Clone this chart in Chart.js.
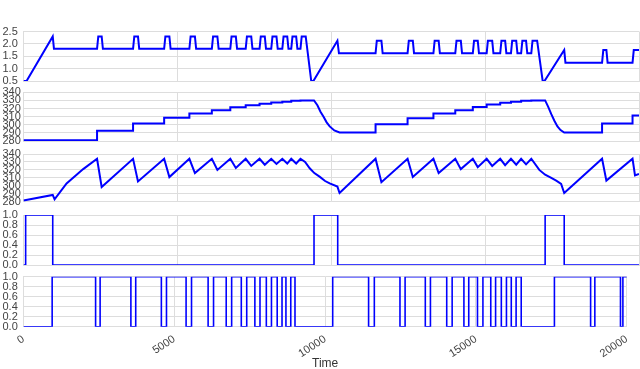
<!DOCTYPE html>
<html>
<head>
<meta charset="utf-8">
<script src="https://cdn.jsdelivr.net/npm/chart.js@4.4.1/dist/chart.umd.min.js"></script>
<style>
    html, body { margin: 0; padding: 0; background: #fff; }
    #wrap { position: relative; width: 640px; height: 369px; overflow: hidden; }
    #wrap canvas { position: absolute; left: 0; }
</style>
</head>
<body>
<div id="wrap">
    <canvas id="c1"></canvas>
    <canvas id="c2"></canvas>
    <canvas id="c3"></canvas>
    <canvas id="c4"></canvas>
    <canvas id="c5"></canvas>
</div>
<script>
// Panel 1: ramp / pulse signal
const p1Time = [0, 100, 950, 990,
    2390, 2430, 2540, 2580,  3560, 3600, 3720, 3760,  4570, 4610, 4740, 4780,
    5390, 5430, 5570, 5610,  6120, 6160, 6300, 6340,  6720, 6760, 6900, 6940,
    7220, 7260, 7400, 7440,  7670, 7710, 7840, 7880,  8050, 8090, 8220, 8260,
    8410, 8450, 8570, 8610,  8700, 8740, 8860, 8900,
    9000, 9040, 9170, 9350, 9420, 10200, 10250,
    11440, 11480, 11630, 11670,  12480, 12520, 12650, 12690,  13320, 13360, 13490, 13530,
    14030, 14070, 14210, 14250,  14600, 14640, 14760, 14800,  15050, 15090, 15230, 15270,
    15490, 15530, 15650, 15690,  15840, 15880, 16010, 16050,  16170, 16210, 16330, 16370,
    16500, 16540, 16690, 16870, 16930, 17570, 17610,
    18800, 18840, 18940, 18980,  19790, 19830, 20000];
const p1Value = [0.5, 0.5, 2.3, 1.8,
    1.8, 2.3, 2.3, 1.8,  1.8, 2.3, 2.3, 1.8,  1.8, 2.3, 2.3, 1.8,
    1.8, 2.3, 2.3, 1.8,  1.8, 2.3, 2.3, 1.8,  1.8, 2.3, 2.3, 1.8,
    1.8, 2.3, 2.3, 1.8,  1.8, 2.3, 2.3, 1.8,  1.8, 2.3, 2.3, 1.8,
    1.8, 2.3, 2.3, 1.8,  1.8, 2.3, 2.3, 1.8,
    1.8, 2.3, 2.3, 0.5, 0.5, 2.13, 1.62,
    1.62, 2.13, 2.13, 1.62,  1.62, 2.13, 2.13, 1.62,  1.62, 2.13, 2.13, 1.62,
    1.62, 2.13, 2.13, 1.62,  1.62, 2.13, 2.13, 1.62,  1.62, 2.13, 2.13, 1.62,
    1.62, 2.13, 2.13, 1.62,  1.62, 2.13, 2.13, 1.62,  1.62, 2.13, 2.13, 1.62,
    1.62, 2.13, 2.13, 0.5, 0.5, 1.75, 1.24,
    1.24, 1.75, 1.75, 1.24,  1.24, 1.75, 1.75];

// Panel 2: stepped level with decays
const p2Time = [0, 2390,  2390, 3560,  3560, 4570,  4570, 5390,  5390, 6120,  6120, 6720,
    6720, 7220,  7220, 7670,  7670, 8050,  8050, 8410,  8410, 8700,  8700, 9000,  9000, 9440,
    9550, 9650, 9750, 9850, 9950, 10100, 10270,
    11440,  11440, 12480,  12480, 13320,  13320, 14030,  14030, 14600,  14600, 15050,
    15050, 15490,  15490, 15840,  15840, 16170,  16170, 16500,  16500, 16950,
    17050, 17150, 17250, 17350, 17450, 17570,
    18800,  18800, 19790,  19790, 20000];
const p2Value = [281, 281,  292.5, 292.5,  301.5, 301.5,  308.5, 308.5,  314, 314,  318, 318,
    321.5, 321.5,  324, 324,  326, 326,  327.5, 327.5,  328.5, 328.5,  329.5, 329.5,  330, 330,
    324, 316, 310, 303, 298, 293, 290.5,
    290.5,  300.5, 300.5,  308, 308,  314, 314,  318, 318,  322, 322,
    325, 325,  327, 327,  328.5, 328.5,  329.5, 329.5,  330, 330,
    322, 313, 305, 298, 293.5, 290.5,
    290.5,  301.5, 301.5,  311.5, 311.5];

// Panel 3: sawtooth
const p3Time = [0, 950, 1010, 1400, 1940, 2390,
    2540, 3560, 3720, 4570, 4740, 5390, 5570, 6120, 6300, 6720, 6900, 7220, 7400, 7670, 7840,
    8050, 8220, 8410, 8570, 8700, 8860, 9000,
    9150, 9300, 9450, 9620, 9800, 9950, 10200, 10270,
    11440, 11630, 12480, 12650, 13320, 13490, 14030, 14210, 14600, 14760, 15050, 15230,
    15490, 15650, 15840, 16010, 16170, 16330, 16500,
    16760, 16950, 17150, 17310, 17470, 17570,
    18800, 18940, 19790, 19870, 20000];
const p3Value = [281.5, 288.5, 283, 303, 321, 334,
    298.5, 334, 305.5, 334, 311, 334, 316, 334, 320, 334, 322.5, 334, 325, 334, 326.5,
    334, 327.5, 334, 328, 334, 328, 334,
    330, 322, 316, 311.5, 306, 303, 299, 291,
    334, 304.5, 334, 311, 334, 316, 334, 321, 334, 323.5, 334, 325,
    334, 326, 334, 326.5, 334, 327, 334,
    320, 314, 310, 306.5, 302.5, 291,
    334, 306.5, 334, 313, 315];

// Panel 4: on/off switching times
const p4Time = [0, 70, 950, 9440, 10210, 16950, 17570, 20000];
const p4State = [0, 1, 0, 1, 0, 1, 0, 0];

// Panel 5: on/off switching times
const p5Time = [0, 950,
    2390, 2540,  3560, 3720,  4570, 4740,  5390, 5570,  6120, 6300,  6720, 6900,
    7220, 7400,  7670, 7840,  8050, 8220,  8410, 8570,  8700, 8860,
    9000, 10250,
    11440, 11630,  12480, 12650,  13320, 13490,  14030, 14210,  14600, 14760,
    15050, 15230,  15490, 15650,  15840, 16010,  16170, 16330,
    16500, 17600,
    18800, 18940,  19790, 19870,  20000];
const p5State = [0, 1,
    0, 1,  0, 1,  0, 1,  0, 1,  0, 1,  0, 1,
    0, 1,  0, 1,  0, 1,  0, 1,  0, 1,
    0, 1,
    0, 1,  0, 1,  0, 1,  0, 1,  0, 1,
    0, 1,  0, 1,  0, 1,  0, 1,
    0, 1,
    0, 1,  0, 1,  1];

const gridColor = "#dddddd";
const tickColor = "#444444";
const tickFont = { family: "Liberation Sans", size: 11 };
const margin = 9;

// Layout of the five stacked panels (plot area top/bottom in px)
const panels = [
    { id: "c1", top: 31.5, bottom: 81, time: p1Time, value: p1Value, min: 0.5, max: 2.5, step: 0.5, width: 2, stepped: false },
    { id: "c2", top: 92.3, bottom: 141, time: p2Time, value: p2Value, min: 280, max: 340, step: 10, width: 2, stepped: false },
    { id: "c3", top: 154, bottom: 201.7, time: p3Time, value: p3Value, min: 280, max: 340, step: 10, width: 2, stepped: false },
    { id: "c4", top: 215, bottom: 265, time: p4Time, value: p4State, min: 0, max: 1, step: 0.2, width: 1.6, stepped: "before" },
    { id: "c5", top: 276.7, bottom: 326.7, time: p5Time, value: p5State, min: 0, max: 1, step: 0.2, width: 1.6, stepped: "before" },
];

function makePanel(p, last) {
    const canvas = document.getElementById(p.id);
    const canvasTop = Math.floor(p.top) - margin;
    const canvasBottom = last ? 369 : Math.ceil(p.bottom) + margin;
    const h = canvasBottom - canvasTop;
    canvas.width = 640;
    canvas.height = h;
    canvas.style.top = canvasTop + "px";
    canvas.style.width = "640px";
    canvas.style.height = h + "px";
    const axisHeight = last ? canvasBottom - p.bottom : 0;
    const decimals = p.step < 1 ? 1 : 0;

    return new Chart(canvas, {
        type: "line",
        data: {
            datasets: [{
                data: p.time.map((t, i) => ({ x: t, y: p.value[i] })),
                borderColor: "#0000ff",
                borderWidth: p.width,
                pointRadius: 0,
                tension: 0,
                stepped: p.stepped,
                fill: false,
            }]
        },
        options: {
            responsive: false,
            animation: false,
            layout: { padding: { left: 2.5, right: 1, top: p.top - canvasTop, bottom: last ? 0 : canvasBottom - p.bottom } },
            plugins: { legend: { display: false }, tooltip: { enabled: false } },
            scales: {
                x: {
                    type: "linear",
                    min: 0,
                    max: 20000,
                    afterFit: s => { s.height = axisHeight; },
                    grid: { color: gridColor, drawTicks: false },
                    border: { color: gridColor },
                    ticks: {
                        display: last,
                        stepSize: 5000,
                        autoSkip: false,
                        minRotation: 33,
                        maxRotation: 33,
                        padding: 6,
                        color: tickColor,
                        font: tickFont,
                        callback: v => String(v),
                    },
                    title: {
                        display: last,
                        text: "Time",
                        color: "#333333",
                        font: { family: "Liberation Sans", size: 12 },
                        padding: { top: 0, bottom: -2 },
                    },
                },
                y: {
                    min: p.min,
                    max: p.max,
                    afterFit: s => { s.width = 21; },
                    grid: { color: gridColor, drawTicks: false },
                    border: { color: gridColor },
                    ticks: {
                        stepSize: p.step,
                        autoSkip: false,
                        crossAlign: "far",
                        padding: 2,
                        color: tickColor,
                        font: tickFont,
                        callback: v => v.toFixed(decimals),
                    },
                },
            },
        },
    });
}

panels.forEach((p, i) => makePanel(p, i === panels.length - 1));
</script>
</body>
</html>
